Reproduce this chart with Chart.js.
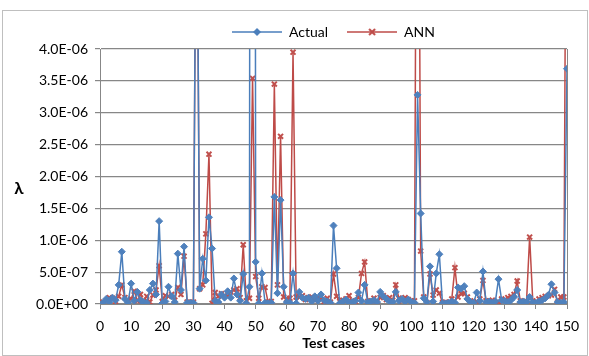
<!DOCTYPE html>
<html>
<head>
<meta charset="utf-8">
<script src="https://cdn.jsdelivr.net/npm/chart.js@4.4.1/dist/chart.umd.min.js"></script>
<style>
    html, body { margin: 0; padding: 0; background: #fff; }
    #wrap { width: 589px; height: 356px; position: relative; }
</style>
</head>
<body>
<div id="wrap"><canvas id="lambdaChart" width="589" height="356"></canvas></div>
<script>
// Test case numbers 1..150 (categories on the x axis)
const testCases = Array.from({ length: 150 }, (_, i) => i + 1);

// Lambda values, in units of 1e-7
const actualValues = [
    0.2, 0.8, 0.3, 1.0, 0.6, 3.0, 8.2, 0.8, 0.2, 3.2,
    0.5, 1.9, 0.6, 0.3, 0.2, 2.2, 3.2, 1.5, 13.0, 0.1,
    0.4, 2.7, 1.2, 0.3, 7.9, 2.2, 9.0, 0.2, 0.2, 0.2,
    80, 2.4, 7.1, 3.7, 13.6, 8.7, 0.5, 0.3, 1.5, 1.0,
    2.0, 1.0, 4.0, 1.5, 0.5, 4.7, 0.1, 2.7, 500, 6.6,
    0.1, 4.8, 0.2, 0.1, 0.2, 16.8, 1.7, 16.3, 2.7, 0.3,
    0.2, 4.8, 0.1, 1.9, 1.0, 0.8, 1.0, 0.4, 1.2, 0.5,
    1.5, 0.6, 0.4, 0.2, 12.3, 5.6, 0.1, 0.4, 0.7, 0.2,
    0.3, 0.5, 1.8, 0.5, 3.0, 0.3, 0.4, 0.6, 0.3, 1.9,
    1.2, 0.8, 0.4, 0.3, 1.9, 0.5, 0.8, 0.4, 0.7, 0.3,
    0.2, 32.8, 14.2, 0.9, 0.3, 5.9, 0.4, 4.8, 7.8, 0.1,
    0.1, 0.2, 0.4, 0.2, 2.6, 2.4, 2.8, 0.8, 0.3, 0.2,
    1.8, 0.5, 5.1, 0.3, 0.4, 0.2, 0.4, 3.9, 0.6, 0.5,
    0.3, 0.6, 1.1, 2.2, 0.3, 0.4, 0.3, 1.1, 0.3, 0.2,
    0.4, 0.6, 0.9, 1.4, 3.1, 1.8, 0.3, 0.2, 0.3, 36.9
];

const annValues = [
    0.3, 0.5, 1.0, 0.9, 0.4, 1.2, 3.0, 1.0, 0.6, 0.8,
    2.0, 0.5, 1.5, 0.4, 1.2, 0.3, 1.4, 2.2, 6.0, 0.4,
    1.3, 1.2, 1.5, 0.6, 2.6, 1.5, 7.5, 0.3, 0.2, 0.3,
    80, 2.4, 3.0, 11.0, 23.5, 0.1, 1.8, 1.2, 1.6, 1.3,
    1.2, 1.9, 2.2, 2.4, 1.0, 9.3, 0.5, 0.9, 35.4, 4.3,
    0.9, 2.7, 2.6, 0.3, 0.4, 34.5, 3.0, 26.3, 1.1, 0.8,
    0.9, 39.5, 1.1, 1.1, 1.3, 0.7, 1.0, 1.1, 0.6, 1.0,
    0.7, 0.4, 0.9, 0.3, 4.7, 1.2, 0.4, 0.6, 0.8, 1.3,
    0.5, 0.4, 1.0, 4.8, 6.6, 0.4, 0.5, 0.9, 0.4, 1.0,
    1.3, 0.7, 1.0, 0.6, 3.0, 0.9, 0.5, 1.0, 0.7, 0.5,
    0.5, 120, 8.3, 1.1, 0.2, 4.7, 1.4, 2.2, 1.7, 0.2,
    0.3, 0.2, 0.8, 5.7, 1.1, 1.6, 1.7, 1.1, 0.5, 0.2,
    0.4, 0.8, 3.7, 0.5, 0.4, 0.6, 0.2, 0.3, 0.8, 0.6,
    1.0, 1.2, 1.5, 3.6, 0.5, 0.3, 0.4, 10.5, 0.5, 0.3,
    0.8, 1.0, 1.2, 1.3, 1.4, 2.3, 0.3, 1.1, 1.1, 100
];

const seriesNames = ['Actual', 'ANN'];
const xTicks = { min: 0, max: 150, step: 10 };
const yTicks = { min: 0, max: 40, step: 5 };   // 0 .. 4.0E-06

const BLUE = '#4a7ebb';
const RED = '#be4b48';
const GRID = '#878787';
const FONT = "Lato, 'Open Sans', sans-serif";

function toPoints(values) {
    return values.map((v, i) => ({ x: testCases[i], y: v }));
}

function formatLambda(v) {
    const s = (v * 1e-7).toExponential(1).toUpperCase();
    return s.replace(/E([+-])(\d)$/, 'E$10$2');
}

// small line + marker pictures for the legend
function legendIcon(color, style) {
    const c = document.createElement('canvas');
    c.width = 50;
    c.height = 12;
    const g = c.getContext('2d');
    g.strokeStyle = color;
    g.lineWidth = 1.5;
    g.beginPath();
    g.moveTo(0, 6);
    g.lineTo(50, 6);
    g.stroke();
    if (style === 'diamond') {
        g.fillStyle = color;
        g.beginPath();
        g.moveTo(25, 2);
        g.lineTo(29, 6);
        g.lineTo(25, 10);
        g.lineTo(21, 6);
        g.closePath();
        g.fill();
    } else {
        g.lineWidth = 2;
        g.beginPath();
        g.moveTo(22, 3);
        g.lineTo(28, 9);
        g.moveTo(28, 3);
        g.lineTo(22, 9);
        g.stroke();
    }
    return c;
}

const legendIcons = [legendIcon(BLUE, 'diamond'), legendIcon(RED, 'cross')];

const decorPlugin = {
    id: 'decor',
    afterDraw(chart) {
        const ctx = chart.ctx;
        const area = chart.chartArea;
        ctx.save();
        // outer chart border
        ctx.strokeStyle = '#bfbfbf';
        ctx.lineWidth = 1;
        ctx.strokeRect(2.5, 10.5, 585, 345);
        // lambda axis title, upright
        ctx.fillStyle = '#000';
        ctx.font = "bold 17px " + FONT;
        ctx.textAlign = 'center';
        ctx.textBaseline = 'middle';
        ctx.fillText('\u03bb', 19, (area.top + area.bottom) / 2 + 12);
        ctx.restore();
    }
};

const ctx = document.getElementById('lambdaChart');

new Chart(ctx, {
    type: 'line',
    data: {
        datasets: [
            {
                label: seriesNames[0],
                data: toPoints(actualValues),
                borderColor: BLUE,
                backgroundColor: '#4f81bd',
                borderWidth: 1.5,
                pointStyle: 'rectRot',
                pointRadius: 3.5,
                pointBorderWidth: 1,
                pointBorderColor: '#4f81bd',
                tension: 0
            },
            {
                label: seriesNames[1],
                data: toPoints(annValues),
                borderColor: RED,
                backgroundColor: RED,
                borderWidth: 1.5,
                pointStyle: 'crossRot',
                pointRadius: 3.5,
                pointBorderWidth: 2,
                pointBorderColor: '#c0504d',
                tension: 0
            }
        ]
    },
    options: {
        responsive: false,
        animation: false,
        layout: {
            padding: { left: 0, right: 22, top: 6, bottom: 4 }
        },
        plugins: {
            legend: {
                position: 'top',
                fullSize: false,   // centre the legend over the plot area only
                labels: {
                    usePointStyle: true,
                    pointStyleWidth: 50,
                    padding: 19,
                    color: '#000',
                    font: { family: FONT, size: 14 },
                    generateLabels(chart) {
                        return chart.data.datasets.map((ds, i) => ({
                            text: ds.label,
                            pointStyle: legendIcons[i],
                            fillStyle: ds.borderColor,
                            strokeStyle: ds.borderColor,
                            lineWidth: 0,
                            hidden: false,
                            datasetIndex: i
                        }));
                    }
                }
            },
            tooltip: { enabled: false }
        },
        scales: {
            x: {
                type: 'linear',
                min: xTicks.min,
                max: xTicks.max,
                afterFit(scale) {
                    scale.height = 48;
                },
                ticks: {
                    stepSize: xTicks.step,
                    color: '#000',
                    padding: 9,
                    maxRotation: 0,
                    font: { family: FONT, size: 14 }
                },
                grid: {
                    color(c) {
                        return c.tick && c.tick.value === xTicks.max ? GRID : 'rgba(0,0,0,0)';
                    },
                    tickColor: GRID,
                    tickLength: 5,
                    lineWidth: 1
                },
                border: { color: GRID, width: 1 },
                title: {
                    display: true,
                    text: 'Test cases',
                    color: '#000',
                    font: { family: FONT, size: 14, weight: 'bold' },
                    padding: { top: 0, bottom: 0 }
                }
            },
            y: {
                min: yTicks.min,
                max: yTicks.max,
                afterFit(scale) {
                    scale.width = 100;
                },
                ticks: {
                    stepSize: yTicks.step,
                    color: '#000',
                    padding: 7,
                    font: { family: FONT, size: 14 },
                    callback(value) {
                        return formatLambda(value);
                    }
                },
                grid: {
                    color: GRID,
                    tickColor: GRID,
                    tickLength: 5,
                    lineWidth: 1.2
                },
                border: { color: GRID, width: 1 }
            }
        }
    },
    plugins: [decorPlugin]
});
</script>
</body>
</html>
